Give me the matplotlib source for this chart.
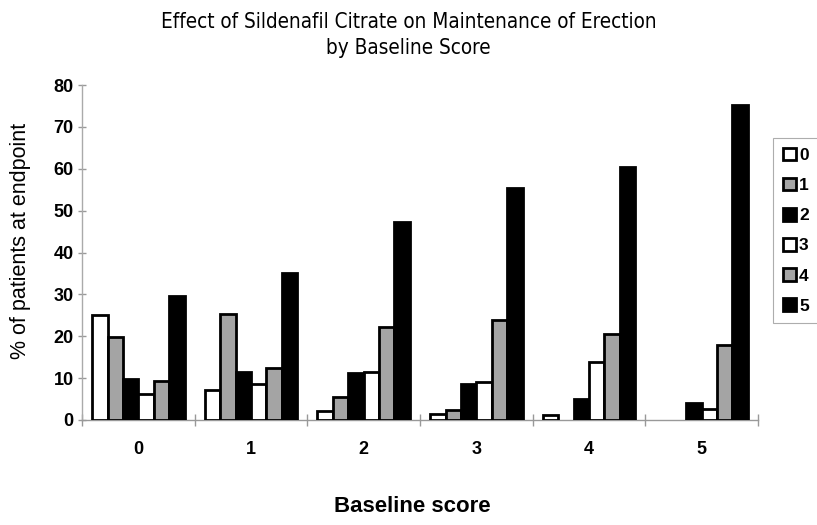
import matplotlib
matplotlib.use("Agg")
import matplotlib.pyplot as plt
import numpy as np
from matplotlib import font_manager
from matplotlib.font_manager import FontProperties

baseline = ["0", "1", "2", "3", "4", "5"]
series_names = ["0", "1", "2", "3", "4", "5"]
s0 = [25.0, 7.1, 2.1, 1.5, 1.1, 0.0]
s1 = [19.8, 25.2, 5.5, 2.3, 0.0, 0.0]
s2 = [9.8, 11.4, 11.3, 8.5, 5.1, 4.0]
s3 = [6.1, 8.6, 11.4, 9.1, 13.8, 2.7]
s4 = [9.4, 12.5, 22.3, 23.9, 20.6, 17.8]
s5 = [29.7, 35.1, 47.4, 55.3, 60.3, 75.2]
series = [s0, s1, s2, s3, s4, s5]
colors = ["white", "#a4a4a4", "black", "white", "#a4a4a4", "black"]

# look for a condensed / narrow face for the title
title_fp = None
for f in font_manager.fontManager.ttflist:
    fn = f.fname.lower()
    if ("narrow" in fn or "condensed" in fn) and "bold" not in fn and "oblique" not in fn \
            and "italic" not in fn and ("liberation" in fn or "dejavusans" in fn):
        if title_fp is None or "liberation" in fn:
            title_fp = f.fname
base = "Liberation Sans"

fig = plt.figure(figsize=(8.17, 5.25), dpi=100)
ax = fig.add_axes([82 / 817, 105 / 525, 676 / 817, 335 / 525])

x = np.arange(len(baseline))
group_w = 0.82
bw = group_w / len(series)
handles = []
for i, (vals, c) in enumerate(zip(series, colors)):
    offs = x - group_w / 2 + bw * (i + 0.5)
    b = ax.bar(offs, vals, width=bw, color=c, edgecolor="black", linewidth=2.0,
               label=series_names[i], zorder=3)
    for patch, v in zip(b.patches, vals):
        if v == 0:
            patch.set_visible(False)
    handles.append(b)

ax.set_xlim(-0.5, len(baseline) - 0.5)
ax.set_ylim(0, 80)
ax.set_yticks(np.arange(0, 81, 10))
ax.set_yticklabels([str(v) for v in range(0, 81, 10)], fontweight="bold", fontsize=13,
                   family=base)
ax.tick_params(axis="y", direction="inout", length=6, width=1, color="#999999", pad=3)

ax.set_xticks(np.arange(-0.5, len(baseline)), minor=False)
ax.set_xticklabels([])
ax.tick_params(axis="x", which="major", direction="inout", length=8, width=1, color="#999999")
ax.set_xticks(x, minor=True)
ax.set_xticklabels(baseline, minor=True, fontweight="bold", fontsize=13, family=base)
ax.tick_params(axis="x", which="minor", length=0, pad=15)

for s in ["top", "right"]:
    ax.spines[s].set_visible(False)
ax.spines["left"].set_color("#aaaaaa")
ax.spines["bottom"].set_color("#999999")
ax.spines["left"].set_linewidth(1)
ax.spines["bottom"].set_linewidth(1)

ax.set_ylabel("% of patients at endpoint", fontsize=15.5, family=base)
ax.yaxis.set_label_coords((31 - 82) / 676, (420 - 241) / 335)
ax.set_xlabel("Baseline score", fontsize=16, fontweight="bold", family=base)
ax.xaxis.set_label_coords((412 - 82) / 676, (420 - 496) / 335)

title_lines = ["Effect of Sildenafil Citrate on Maintenance of Erection", "by Baseline Score"]
if title_fp is not None:
    fp = FontProperties(fname=title_fp, size=16)
else:
    fp = FontProperties(family="DejaVu Sans", size=13.5)
t1 = fig.text(0.5, 1 - 22 / 525, title_lines[0], ha="center", va="center", fontproperties=fp)
# calibrate size so the first line is about 500 px wide
r = fig.canvas.get_renderer()
w = t1.get_window_extent(r).width
sz = fp.get_size() * 500.0 / w
fp.set_size(sz)
t1.set_fontproperties(fp)
fig.text(0.5, 1 - 48 / 525, title_lines[1], ha="center", va="center", fontproperties=fp)

leg = fig.legend(handles=handles, labels=series_names, loc="upper left",
                 bbox_to_anchor=(773 / 817, 1 - 138 / 525), frameon=True,
                 prop={"weight": "bold", "size": 12.5, "family": base},
                 handlelength=0.75, handleheight=0.75, handletextpad=0.2,
                 labelspacing=0.85, borderpad=0.55, fancybox=False, borderaxespad=0)
leg.get_frame().set_edgecolor("#999999")
leg.get_frame().set_linewidth(0.8)

fig.savefig("out.png", dpi=100)
